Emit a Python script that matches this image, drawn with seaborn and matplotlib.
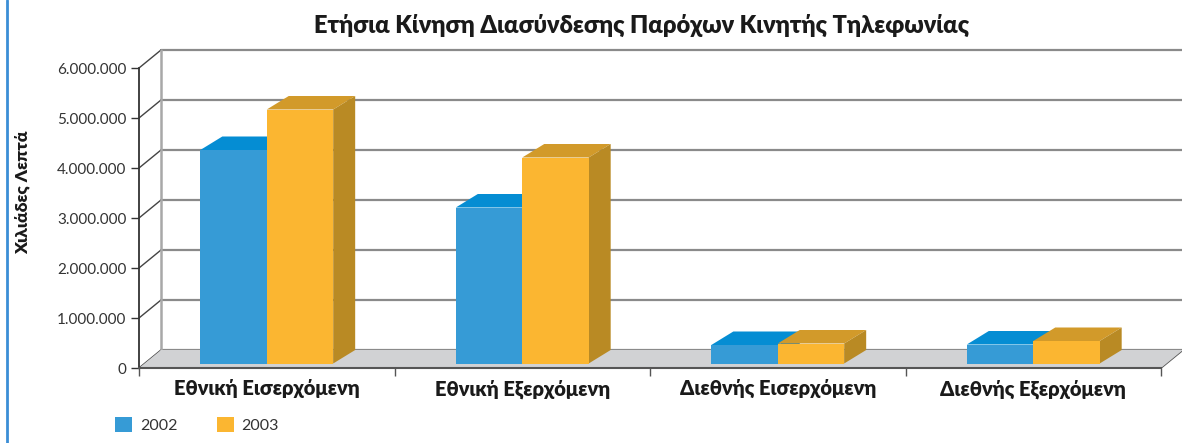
import pandas as pd
import matplotlib
matplotlib.use('Agg')
import matplotlib.pyplot as plt
import seaborn as sns
from matplotlib.patches import Polygon, Patch
from matplotlib.lines import Line2D

categories = ['Εθνική Εισερχόμενη', 'Εθνική Εξερχόμενη', 'Διεθνής Εισερχόμενη', 'Διεθνής Εξερχόμενη']
years = ['2002', '2003']
minutes_2002 = [4270000, 3120000, 370000, 380000]
minutes_2003 = [5080000, 4120000, 400000, 450000]
y_ticks = [0, 1000000, 2000000, 3000000, 4000000, 5000000, 6000000]
y_tick_labels = ['0', '1.000.000', '2.000.000', '3.000.000', '4.000.000', '5.000.000', '6.000.000']

df = pd.DataFrame({
    'category': categories * 2,
    'year': ['2002'] * 4 + ['2003'] * 4,
    'minutes': minutes_2002 + minutes_2003,
})

front = {'2002': '#369bd6', '2003': '#fbb631'}
top = {'2002': '#058dd3', '2003': '#d29a2a'}
side = {'2002': '#1f7fb8', '2003': '#b98a24'}

sns.set_theme(style='white')
plt.rcParams['font.family'] = ['Lato', 'Noto Sans', 'DejaVu Sans']

W, H = 1182, 443
fig = plt.figure(figsize=(W / 100, H / 100), dpi=100)
# front plane of the 3d box, in pixels
x0, x1, y0, y1 = 139, 1161, 368, 68
ax = fig.add_axes([x0 / W, 1 - y0 / H, (x1 - x0) / W, (y0 - y1) / H])

sns.barplot(data=df, x='category', y='minutes', hue='year', palette=front,
            width=0.52, saturation=1, linewidth=0, legend=False, ax=ax)
ax.set_xlim(-0.5, 3.5)
ax.set_ylim(0, 6000000)
ax.patch.set_visible(False)


def px_x(p):
    return p * 4 / (x1 - x0)


def px_y(p):
    return p * 6000000 / (y0 - y1)


# back wall, floor and left wall
wdx, wdy = px_x(22), px_y(18)
grid_kw = dict(color='#8a8a8a', lw=1.6, clip_on=False, zorder=1)
floor = Polygon([(-0.5, 0), (3.5, 0), (3.5 + wdx, wdy), (-0.5 + wdx, wdy)],
                closed=True, facecolor='#d1d2d4', edgecolor='none', zorder=1.5, clip_on=False)
ax.add_patch(floor)
for v in y_ticks:
    ax.plot([-0.5 + wdx, 3.5 + wdx], [v + wdy, v + wdy], **grid_kw)
    ax.plot([-0.5, -0.5 + wdx], [v, v + wdy], color='#444444', lw=1, clip_on=False, zorder=1)
ax.plot([-0.5 + wdx, -0.5 + wdx], [wdy, 6000000 + wdy], color='#a8a8a8', lw=1.8, clip_on=False, zorder=1)
ax.plot([3.5, 3.5 + wdx], [0, wdy], color='#555555', lw=1.2, clip_on=False, zorder=1)

# give the bars depth
lift = px_y(4.5)
bdx, bdy = px_x(22), px_y(13.5)
for i, (cont, yr) in enumerate(zip(ax.containers, years)):
    for p in cont.patches:
        x, w, h = p.get_x(), p.get_width(), p.get_height()
        p.set_y(lift)
        p.set_zorder(4 + 2 * i)
        b = lift
        ax.add_patch(Polygon([(x, b + h), (x + w, b + h), (x + w + bdx, b + h + bdy), (x + bdx, b + h + bdy)],
                             closed=True, facecolor=top[yr], edgecolor='none', zorder=3 + 2 * i, clip_on=False))
        ax.add_patch(Polygon([(x + w, b), (x + w + bdx, b + bdy), (x + w + bdx, b + h + bdy), (x + w, b + h)],
                             closed=True, facecolor=side[yr], edgecolor='none', zorder=3 + 2 * i, clip_on=False))

# front axes
for s in ['top', 'right']:
    ax.spines[s].set_visible(False)
ax.spines['left'].set_color('#333333')
ax.spines['left'].set_linewidth(1.3)
ax.spines['bottom'].set_color('#555555')
ax.spines['bottom'].set_linewidth(1.5)
ax.spines['left'].set_zorder(8)
ax.spines['bottom'].set_zorder(8)

ax.set_yticks(y_ticks, y_tick_labels)
ax.tick_params(axis='y', which='major', direction='out', length=6, width=1, color='#333333',
               pad=3, labelsize=11, labelcolor='#333333', left=True)

ax.set_xticks(range(4), categories)
ax.set_xticks([-0.5, 0.5, 1.5, 2.5, 3.5], minor=True)
ax.tick_params(axis='x', which='major', length=0, pad=8, labelsize=14.5, labelcolor='#1a1a1a')
ax.tick_params(axis='x', which='minor', direction='out', length=6, width=1, color='#555555', bottom=True)
for lab in ax.get_xticklabels():
    lab.set_fontweight('heavy')
ax.set_xlabel('')
ax.set_ylabel('')

fig.text(642 / W, 1 - 25 / H, 'Ετήσια Κίνηση Διασύνδεσης Παρόχων Κινητής Τηλεφωνίας',
         ha='center', va='center', fontsize=17, fontweight='heavy', color='#1a1a1a')
fig.text(22 / W, 1 - 192 / H, 'Χιλιάδες Λεπτά', rotation=90, ha='center', va='center',
         fontsize=12.5, fontweight='heavy', color='#1a1a1a')

handles = [Patch(facecolor=front[yr], edgecolor='none') for yr in years]
leg = fig.legend(handles, years, loc='center left', bbox_to_anchor=(101 / W, 1 - 425 / H),
                 ncol=2, frameon=False, handlelength=1.05, handleheight=1.05, handletextpad=0.5,
                 columnspacing=2.45, fontsize=11.5)
for t in leg.get_texts():
    t.set_color('#333333')

fig.add_artist(Line2D([7 / W, 7 / W], [0, 1], transform=fig.transFigure, color='#3b8ed6', lw=2))

fig.savefig('out.png', dpi=100)
